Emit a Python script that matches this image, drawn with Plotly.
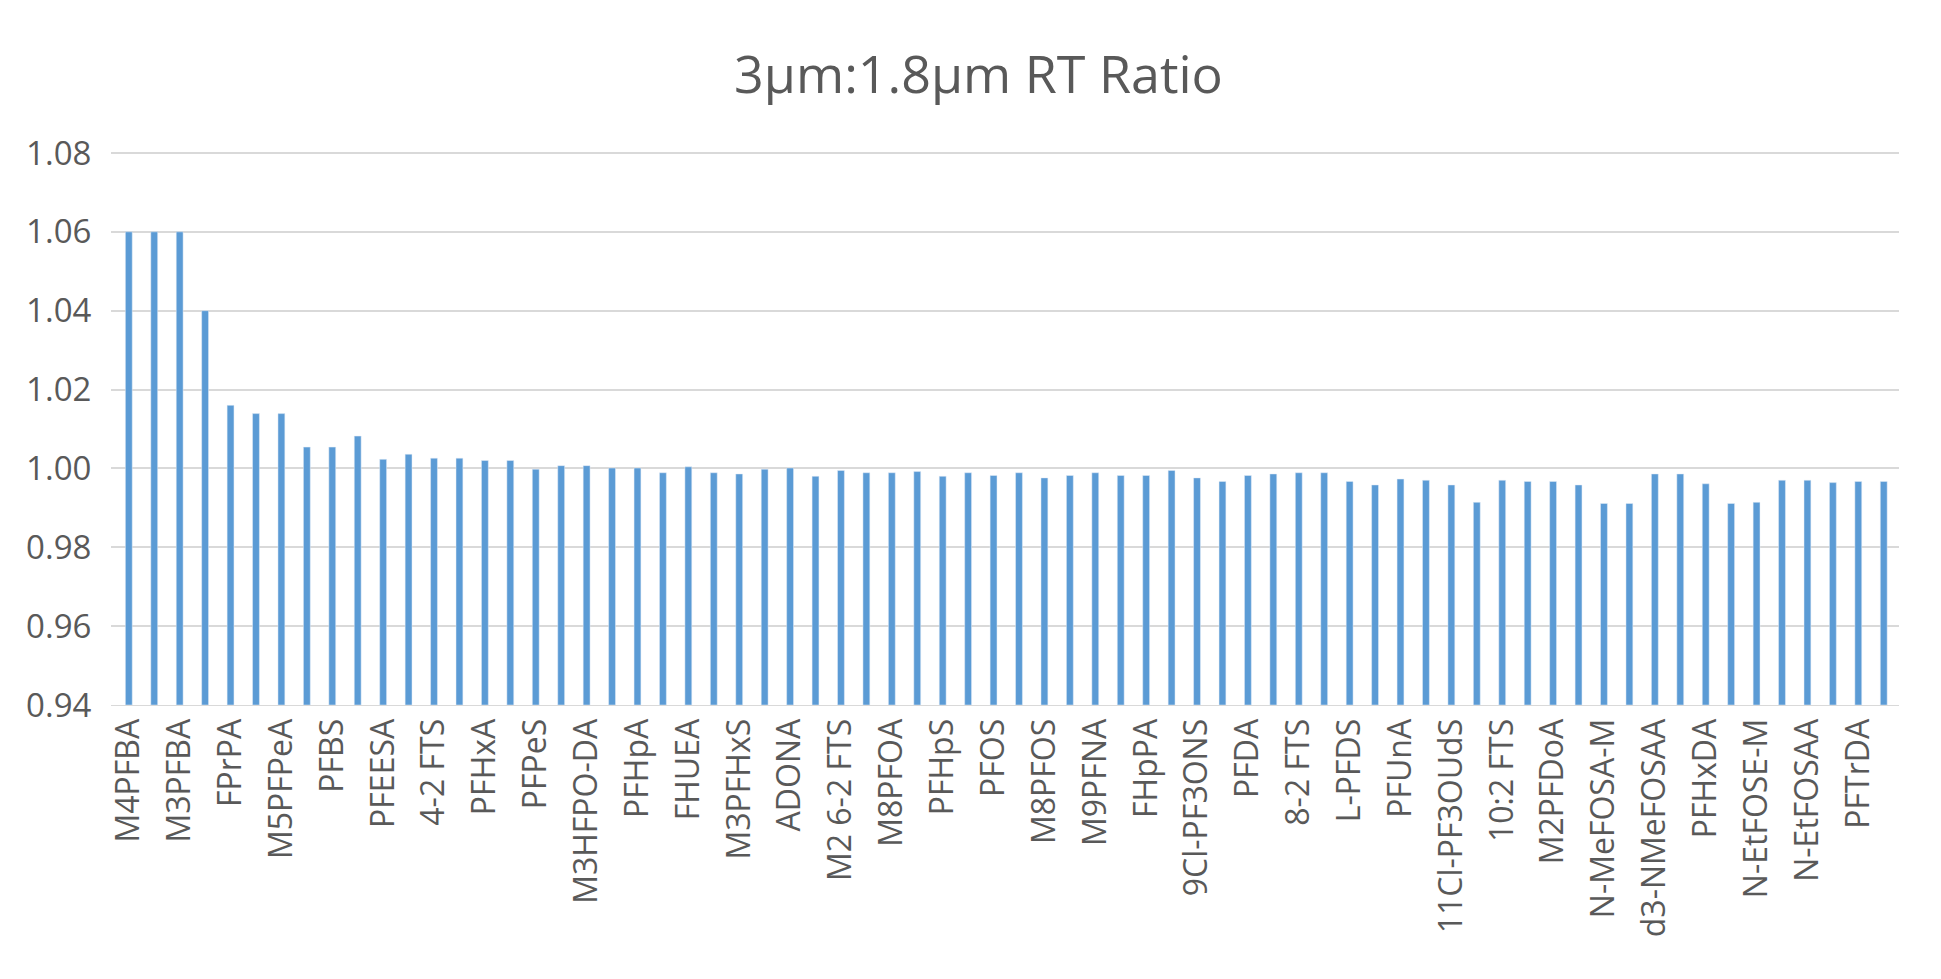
import plotly.graph_objects as go

# compound names (only every other one is labelled on the axis)
compounds = [
    "M4PFBA", "PFBA", "M3PFBA", "PFMPA", "FPrPA", "PFPeA", "M5PFPeA", "PFMBA",
    "PFBS", "M3PFBS", "PFEESA", "NFDHA", "4-2 FTS", "M2 4-2 FTS", "PFHxA", "M5PFHxA",
    "PFPeS", "HFPO-DA", "M3HFPO-DA", "M4PFHpA", "PFHpA", "FPePA", "FHUEA", "PFHxS",
    "M3PFHxS", "M6PFDA", "ADONA", "6-2 FTS", "M2 6-2 FTS", "PFOA", "M8PFOA", "M8PFOA-2",
    "PFHpS", "PFNA", "PFOS", "M9PFNA-2", "M8PFOS", "PFOSA", "M9PFNA", "PFNS",
    "FHpPA", "M8FOSA", "9Cl-PF3ONS", "M6PFDA-2", "PFDA", "M2 8-2 FTS", "8-2 FTS", "PFDS",
    "L-PFDS", "M7PFUnA", "PFUnA", "FOUEA", "11Cl-PF3OUdS", "PFDoS", "10:2 FTS", "PFDoA",
    "M2PFDoA", "PFTrDA-2", "N-MeFOSA-M", "N-MeFOSA", "d3-NMeFOSAA", "N-MeFOSAA", "PFHxDA", "N-EtFOSE",
    "N-EtFOSE-M", "d5-NEtFOSAA", "N-EtFOSAA", "PFTeDA", "PFTrDA", "PFODA",
]

ratios = [
    1.060, 1.060, 1.060, 1.040, 1.016, 1.0139, 1.0139, 1.0054,
    1.0054, 1.0082, 1.0023, 1.0036, 1.0026, 1.0026, 1.0020, 1.0020,
    0.9998, 1.0007, 1.0007, 1.0001, 1.0001, 0.9989, 1.0004, 0.9989,
    0.9986, 0.9998, 1.0001, 0.9980, 0.9995, 0.9989, 0.9989, 0.9992,
    0.9980, 0.9989, 0.9982, 0.9989, 0.9976, 0.9982, 0.9989, 0.9982,
    0.9982, 0.9995, 0.9976, 0.9967, 0.9982, 0.9986, 0.9989, 0.9989,
    0.9967, 0.9958, 0.9973, 0.9970, 0.9958, 0.9914, 0.9970, 0.9967,
    0.9967, 0.9958, 0.9911, 0.9911, 0.9986, 0.9986, 0.9961, 0.9911,
    0.9914, 0.9970, 0.9970, 0.9964, 0.9967, 0.9967,
]

y_ticks = [0.94, 0.96, 0.98, 1.00, 1.02, 1.04, 1.06, 1.08]

font_color = "#595959"

fig = go.Figure()
fig.add_trace(go.Bar(x=compounds, y=[v - 0.94 for v in ratios], base=0.94,
                     marker_color="#5B9BD5", width=0.27))

fig.update_layout(
    title=dict(text="3µm:1.8µm RT Ratio", x=0.5, y=0.95, xanchor="center",
               font=dict(size=52, color=font_color)),
    font=dict(family="Open Sans, Arial", color=font_color),
    plot_bgcolor="white",
    paper_bgcolor="white",
    width=1941, height=979,
    margin=dict(l=103, r=50, t=143, b=282),
    showlegend=False,
)
fig.update_xaxes(
    tickmode="array",
    tickvals=compounds[::2],
    ticktext=compounds[::2],
    tickangle=-90,
    tickfont=dict(size=32),
    showline=True, linecolor="#d9d9d9",
    showgrid=False,
    range=[-0.7, len(compounds) - 0.4],
)
fig.update_yaxes(
    range=[0.94, 1.0805],
    tickvals=y_ticks,
    ticktext=[f"{v:.2f}" for v in y_ticks],
    tickfont=dict(size=33),
    gridcolor="#d9d9d9", gridwidth=2,
    zeroline=False,
    ticks="outside",
    ticklen=12, tickcolor="white",
)

fig.write_html("out.html")
